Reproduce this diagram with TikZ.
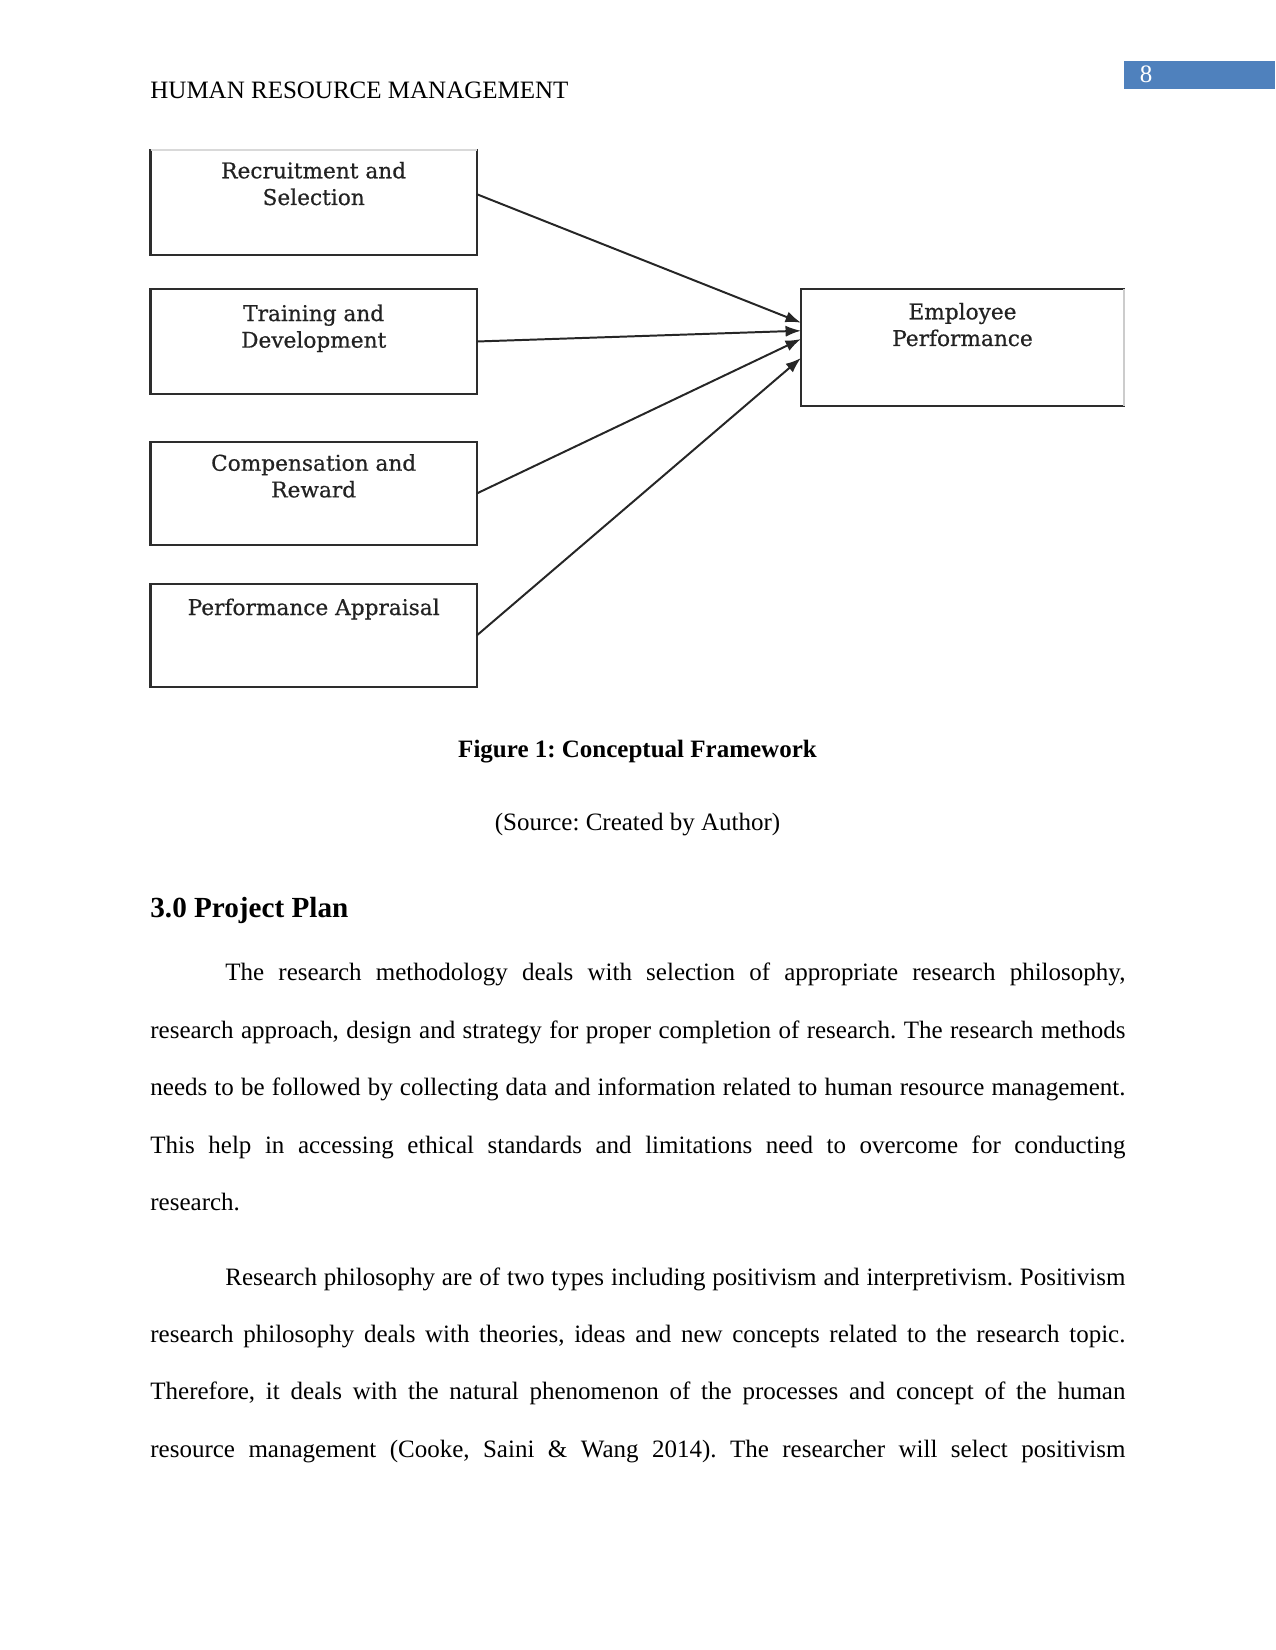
\documentclass[tikz,border=0pt]{standalone}
\usepackage{fontspec}
\setmainfont{Liberation Serif}
\newfontfamily\boxfont[FakeBold=0.6]{DejaVu Serif}
\usetikzlibrary{arrows.meta}
\definecolor{pgblue}{RGB}{79,129,189}
\definecolor{boxline}{RGB}{45,45,45}
\definecolor{boxtext}{RGB}{34,34,34}
\frenchspacing
\begin{document}
\begin{tikzpicture}[x=0.48bp,y=-0.48bp,
  box/.style={draw=boxline, line width=1.15bp, inner sep=0pt, outer sep=0pt, minimum width=156.48bp},
  boxlabel/.style={anchor=base, inner sep=0pt, text=boxtext, font=\boxfont\fontsize{10.4bp}{12.8bp}\selectfont},
  conn/.style={draw=black!85, line width=0.95bp, -{Latex[length=7.4bp,width=5.4bp]}},
  body/.style={anchor=base west, inner sep=0pt, font=\fontsize{12bp}{14bp}\selectfont},
  centred/.style={anchor=base, inner sep=0pt, font=\fontsize{12bp}{14bp}\selectfont}]
\useasboundingbox (0,0) rectangle (1275,1650);

% header
\node[body] (hdr) at (150,98.3) {HUMAN RESOURCE MANAGEMENT};
\node[fill=pgblue, inner sep=0pt, outer sep=0pt, minimum width=72.48bp, minimum height=13.44bp, anchor=north west] (pgbox) at (1124,61) {};
\node[centred, text=white] (pgnum) at (1146,82.7) {8};

% boxes
\node[box, minimum height=50.4bp] (b1) at (313.7,202.5) {};
\node[box, minimum height=50.4bp] (b2) at (313.7,341.5) {};
\node[box, minimum height=49.44bp] (b3) at (313.7,493.5) {};
\node[box, minimum height=49.44bp] (b4) at (313.7,635.5) {};
\node[box, minimum width=155.04bp, minimum height=56.16bp] (ep) at (962.5,347.5) {};

% faint cropped edges
\draw[white, line width=1.3bp] (b1.north west) -- (b1.north east);
\draw[black!15, line width=0.6bp] (b1.north west) -- (b1.north east);
\draw[white, line width=1.3bp] (ep.north east) -- (ep.south east);
\draw[black!20, line width=0.6bp] (ep.north east) -- (ep.south east);

% box labels
\node[boxlabel] (t1) at (313.7,178.3) {\begin{tabular}[t]{@{}c@{}}Recruitment and\\Selection\end{tabular}};
\node[boxlabel] (t2) at (313.7,321) {\begin{tabular}[t]{@{}c@{}}Training and\\Development\end{tabular}};
\node[boxlabel] (t3) at (313.7,470.7) {\begin{tabular}[t]{@{}c@{}}Compensation and\\Reward\end{tabular}};
\node[boxlabel] (t4) at (313.7,615) {Performance Appraisal};
\node[boxlabel] (t5) at (962.5,319.3) {\begin{tabular}[t]{@{}c@{}}Employee\\Performance\end{tabular}};

% connectors
\draw[conn] ([yshift=4bp]b1.east) -- ([yshift=11.9bp]ep.west);
\draw[conn] (b2.east) -- ([yshift=8.06bp]ep.west);
\draw[conn] (b3.east) -- ([yshift=4.08bp]ep.west);
\draw[conn] (b4.east) -- ([yshift=-5.04bp]ep.west);

% caption
\node[centred, font=\fontsize{12bp}{14bp}\selectfont\bfseries] (cap) at (637.5,757) {Figure 1: Conceptual Framework};
\node[centred] (src) at (637.5,830) {(Source: Created by Author)};

% heading
\node[body, font=\fontsize{14bp}{16bp}\selectfont\bfseries] (head) at (150,917) {3.0 Project Plan};

% paragraph 1
\node[body] (p1a) at (225,980) {\makebox[432bp][s]{The research methodology deals with selection of appropriate research philosophy,}};
\node[body] (p1b) at (150,1038) {\makebox[468bp][s]{research approach, design and strategy for proper completion of research. The research methods}};
\node[body] (p1c) at (150,1095.5) {\makebox[468bp][s]{needs to be followed by collecting data and information related to human resource management.}};
\node[body] (p1d) at (150,1153) {\makebox[468bp][s]{This help in accessing ethical standards and limitations need to overcome for conducting}};
\node[body] (p1e) at (150,1210) {research.};

% paragraph 2
\node[body] (p2a) at (225,1285) {\makebox[432bp][s]{Research philosophy are of two types including positivism and interpretivism. Positivism}};
\node[body] (p2b) at (150,1342.5) {\makebox[468bp][s]{research philosophy deals with theories, ideas and new concepts related to the research topic.}};
\node[body] (p2c) at (150,1399.5) {\makebox[468bp][s]{Therefore, it deals with the natural phenomenon of the processes and concept of the human}};
\node[body] (p2d) at (150,1457) {\makebox[468bp][s]{resource management (Cooke, Saini \& Wang 2014). The researcher will select positivism}};
\end{tikzpicture}
\end{document}
